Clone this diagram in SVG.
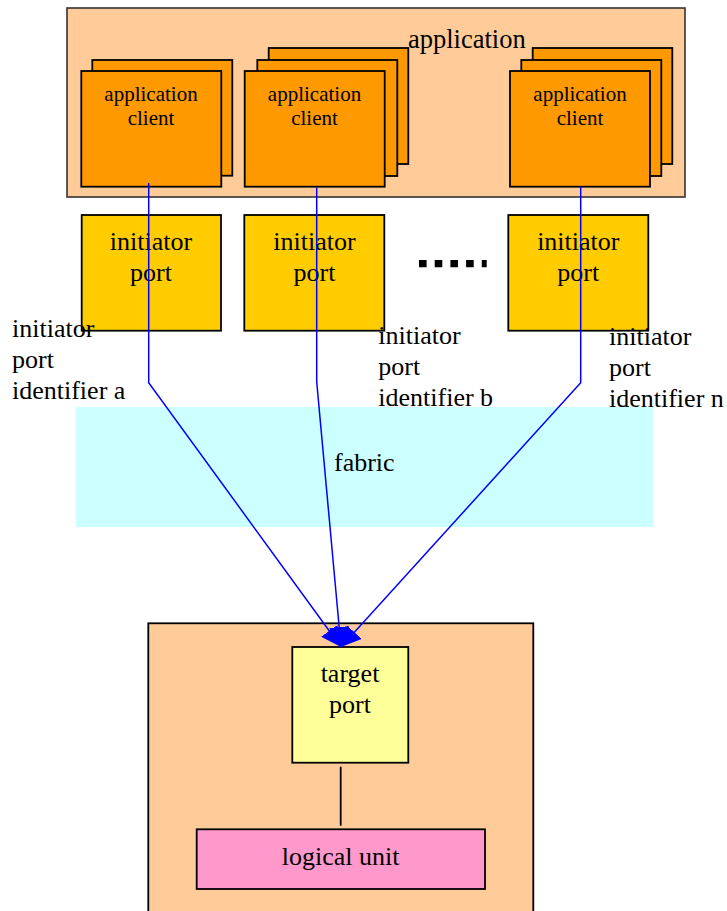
<svg xmlns="http://www.w3.org/2000/svg" width="727" height="911" viewBox="0 0 727 911">
  <style>
    text { fill: #000; }
    .big { font-size: 26px; }
    .small { font-size: 21px; }
    .mid { text-anchor: middle; }
    .box { stroke: #000; stroke-width: 1.8; }
    .peach { fill: #ffcc99; }
    .client { fill: #ff9900; }
    .iport { fill: #ffcc00; }
    .tport { fill: #ffff99; }
    .lu { fill: #ff99cc; }
    .link { fill: none; stroke: #0000ff; stroke-width: 1.5; }
  </style>
  <defs>
    <marker id="head" viewBox="0 0 20 20" refX="20" refY="10" markerWidth="20" markerHeight="20" markerUnits="userSpaceOnUse" orient="auto">
      <path d="M0,0 L20,10 L0,20 z" fill="#0000ff"/>
    </marker>
  </defs>

  <rect width="727" height="911" fill="#ffffff"/>

  <g font-family="Liberation Serif, Tinos, Times New Roman, DejaVu Serif, serif">
  <!-- fabric band -->
  <g id="fabric">
    <rect x="76" y="407" width="577" height="120" fill="#ccffff"/>
    <text class="big" x="334" y="471">fabric</text>
  </g>

  <!-- application container -->
  <g id="application">
    <rect class="peach" x="67" y="8" width="618" height="189" stroke="#333" stroke-width="1.6"/>
    <text x="408" y="48" font-size="26.5">application</text>
  </g>

  <g id="client-a">
    <rect class="box client" x="92.3" y="60" width="140" height="115.7"/>
    <rect class="box client" x="81.3" y="71" width="140" height="115.7"/>
    <text class="small mid" x="151" y="101">application</text>
    <text class="small mid" x="151" y="125">client</text>
  </g>

  <g id="client-b">
    <rect class="box client" x="268.7" y="48" width="139.6" height="116"/>
    <rect class="box client" x="257.3" y="60" width="140" height="116"/>
    <rect class="box client" x="244.7" y="71" width="140" height="115.7"/>
    <text class="small mid" x="314.5" y="101">application</text>
    <text class="small mid" x="314.5" y="125">client</text>
  </g>

  <g id="client-n">
    <rect class="box client" x="532.7" y="48" width="139.6" height="116"/>
    <rect class="box client" x="521.3" y="60" width="140" height="116"/>
    <rect class="box client" x="510" y="71" width="140" height="115.7"/>
    <text class="small mid" x="580" y="101">application</text>
    <text class="small mid" x="580" y="125">client</text>
  </g>

  <!-- initiator ports -->
  <g id="port-a">
    <rect class="box iport" x="81.7" y="215" width="139.3" height="115.7"/>
    <text class="big mid" x="151" y="250">initiator</text>
    <text class="big mid" x="151" y="281">port</text>
  </g>
  <g id="port-b">
    <rect class="box iport" x="244.3" y="215" width="140" height="115.7"/>
    <text class="big mid" x="314.5" y="250">initiator</text>
    <text class="big mid" x="314.5" y="281">port</text>
  </g>
  <g id="port-n">
    <rect class="box iport" x="508.3" y="215" width="140" height="115.7"/>
    <text class="big mid" x="578.3" y="250">initiator</text>
    <text class="big mid" x="578.3" y="281">port</text>
  </g>

  <!-- ellipsis between ports -->
  <line x1="419" y1="263.7" x2="486.7" y2="263.7" stroke="#000" stroke-width="7.3" stroke-dasharray="7.6 8.1"/>

  <!-- port identifiers -->
  <g id="id-a">
    <text class="big" x="12" y="337">initiator</text>
    <text class="big" x="12" y="368">port</text>
    <text class="big" x="12" y="399">identifier a</text>
  </g>
  <g id="id-b">
    <text class="big" x="378.3" y="344">initiator</text>
    <text class="big" x="378.3" y="375">port</text>
    <text class="big" x="378.3" y="406">identifier b</text>
  </g>
  <g id="id-n">
    <text class="big" x="609" y="345">initiator</text>
    <text class="big" x="609" y="376">port</text>
    <text class="big" x="609" y="407">identifier n</text>
  </g>

  <!-- target device -->
  <g id="device">
    <rect class="box peach" x="148.3" y="623.3" width="385" height="300"/>
  </g>
  <g id="target-port">
    <rect class="box tport" x="292.3" y="647" width="116" height="115.7"/>
    <text class="big mid" x="350" y="681.7">target</text>
    <text class="big mid" x="350" y="712.7">port</text>
  </g>
  <g id="logical-unit">
    <rect class="box lu" x="196.7" y="829.3" width="288.3" height="59.7"/>
    <text class="big mid" x="340.7" y="865">logical unit</text>
  </g>
  </g>

  <!-- connectors -->
  <g id="connectors">
    <polyline class="link" points="148.7,183 148.7,382.7 341,647" marker-end="url(#head)"/>
    <polyline class="link" points="316.7,187.5 316.7,381.7 341,647" marker-end="url(#head)"/>
    <polyline class="link" points="580.7,186.7 580.7,382.7 341,647" marker-end="url(#head)"/>
    <line x1="340.7" y1="766.7" x2="340.7" y2="825.7" stroke="#000" stroke-width="1.8"/>
  </g>
</svg>
